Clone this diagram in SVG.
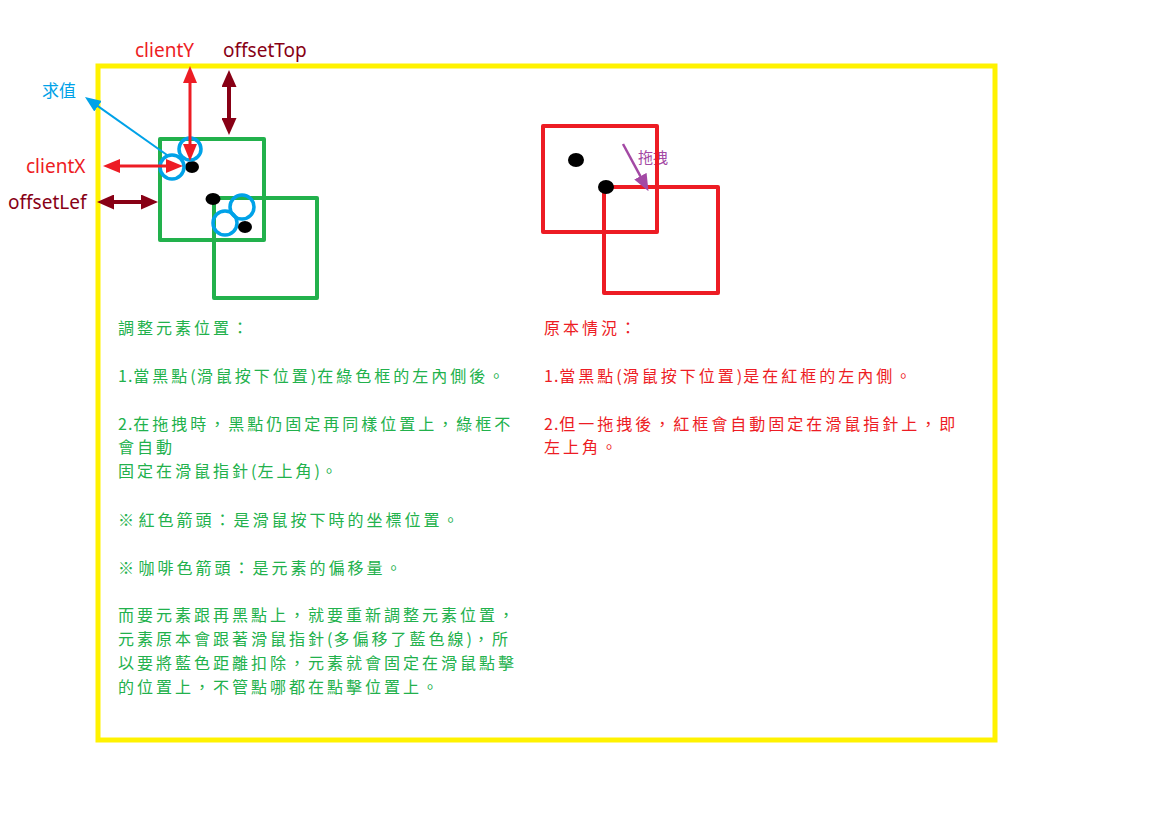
<svg xmlns="http://www.w3.org/2000/svg" width="1155" height="816" viewBox="0 0 1155 816">
<style>
.lbl{font-family:"Noto Sans","Open Sans","Liberation Sans",sans-serif;font-size:19px}
.cjk{font-family:"Noto Sans CJK TC","Noto Sans CJK SC",sans-serif;font-size:16px;letter-spacing:3px}
.n{letter-spacing:1px}
.s{letter-spacing:0.5px}
.g{fill:#22b14c}
.r{fill:#ed1c24}
.box{fill:none;stroke-width:4;stroke-linejoin:round}
.ring{fill:none;stroke:#00a2e8;stroke-width:3.5}
.dot{fill:#000}
</style>
<defs>
<marker id="mr" markerUnits="userSpaceOnUse" markerWidth="17" markerHeight="14" refX="9" refY="7" orient="auto-start-reverse"><path d="M0,0 L17,7 L0,14 z" fill="#ed1c24"/></marker>
<marker id="md" markerUnits="userSpaceOnUse" markerWidth="17" markerHeight="15" refX="9" refY="7.5" orient="auto-start-reverse"><path d="M0,0 L17,7.5 L0,15 z" fill="#880015"/></marker>
<marker id="mb" markerUnits="userSpaceOnUse" markerWidth="16" markerHeight="13" refX="8" refY="6.5" orient="auto"><path d="M0,0 L16,6.5 L0,13 z" fill="#00a2e8"/></marker>
<marker id="mp" markerUnits="userSpaceOnUse" markerWidth="17" markerHeight="14" refX="9" refY="7" orient="auto"><path d="M0,0 L17,7 L0,14 z" fill="#a349a4"/></marker>
</defs>
<rect width="1155" height="816" fill="#fff"/>
<rect id="frame" x="98" y="66" width="897" height="674" fill="none" stroke="#fff200" stroke-width="5"/>

<g id="green-boxes">
<rect x="160" y="139" width="104" height="101" class="box" stroke="#22b14c"/>
<rect x="214" y="198" width="103" height="100" class="box" stroke="#22b14c"/>
</g>
<g id="green-points">
<ellipse cx="192" cy="167" rx="7" ry="6" class="dot"/>
<ellipse cx="213" cy="199" rx="7.5" ry="6" class="dot"/>
<circle cx="190" cy="149" r="11" class="ring"/>
<circle cx="172" cy="167" r="12" class="ring"/>
<circle cx="242" cy="207" r="12" class="ring"/>
<circle cx="225" cy="223" r="12" class="ring"/>
<ellipse cx="245" cy="227" rx="7" ry="6" class="dot"/>
</g>

<g id="red-boxes">
<text x="638" y="163" font-family="'Noto Sans CJK TC',sans-serif" font-size="15" fill="#a349a4">拖拽</text>
<rect x="543" y="126" width="114" height="106" class="box" stroke="#ed1c24"/>
<rect x="604" y="187" width="114" height="106" class="box" stroke="#ed1c24"/>
<ellipse cx="576" cy="160" rx="8" ry="7" class="dot"/>
<ellipse cx="606" cy="187" rx="8" ry="7" class="dot"/>
</g>

<g id="connectors">
<line x1="190" y1="74" x2="190" y2="153" stroke="#ed1c24" stroke-width="3" marker-start="url(#mr)" marker-end="url(#mr)"/>
<line x1="229" y1="78" x2="229" y2="127" stroke="#880015" stroke-width="4" marker-start="url(#md)" marker-end="url(#md)"/>
<line x1="111" y1="166" x2="175" y2="166" stroke="#ed1c24" stroke-width="3" marker-start="url(#mr)" marker-end="url(#mr)"/>
<line x1="105" y1="202" x2="150" y2="202" stroke="#880015" stroke-width="4" marker-start="url(#md)" marker-end="url(#md)"/>
<line x1="167" y1="155" x2="91.5" y2="101.6" stroke="#00a2e8" stroke-width="2" marker-end="url(#mb)"/>
<line x1="623" y1="144" x2="644.7" y2="184.1" stroke="#a349a4" stroke-width="2.5" marker-end="url(#mp)"/>
</g>

<g id="labels">
<text x="135" y="57" class="lbl" fill="#ed1c24">clientY</text>
<text x="223" y="57" class="lbl" fill="#880015">offsetTop</text>
<text x="42" y="97" font-family="'Noto Sans CJK TC',sans-serif" font-size="17" fill="#00a2e8">求值</text>
<text x="26" y="173" class="lbl" fill="#ed1c24">clientX</text>
<text x="8" y="209" class="lbl" fill="#880015">offsetLef</text>
</g>

<g id="green-notes" class="cjk g">
<text x="118" y="334">調整元素位置：</text>
<text x="118" y="382"><tspan class="n">1.</tspan>當黑點<tspan class="n">(</tspan>滑鼠按下位置<tspan class="n">)</tspan>在綠色框的左內側後。</text>
<text x="118" y="430"><tspan class="n">2.</tspan>在拖拽時，黑點仍固定再同樣位置上，綠框不</text>
<text x="118" y="453">會自動</text>
<text x="118" y="477">固定在滑鼠指針<tspan class="n">(</tspan>左上角<tspan class="n">)</tspan>。</text>
<text x="118" y="526"><tspan class="s">※ </tspan>紅色箭頭：是滑鼠按下時的坐標位置。</text>
<text x="118" y="574"><tspan class="s">※ </tspan>咖啡色箭頭：是元素的偏移量。</text>
<text x="118" y="621">而要元素跟再黑點上，就要重新調整元素位置，</text>
<text x="118" y="645">元素原本會跟著滑鼠指針<tspan class="n">(</tspan>多偏移了藍色線<tspan class="n">)</tspan>，所</text>
<text x="118" y="669">以要將藍色距離扣除，元素就會固定在滑鼠點擊</text>
<text x="118" y="693">的位置上，不管點哪都在點擊位置上。</text>
</g>

<g id="red-notes" class="cjk r">
<text x="544" y="334">原本情況：</text>
<text x="544" y="382"><tspan class="n">1.</tspan>當黑點<tspan class="n">(</tspan>滑鼠按下位置<tspan class="n">)</tspan>是在紅框的左內側。</text>
<text x="544" y="430"><tspan class="n">2.</tspan>但一拖拽後，紅框會自動固定在滑鼠指針上，即</text>
<text x="544" y="453">左上角。</text>
</g>
</svg>
